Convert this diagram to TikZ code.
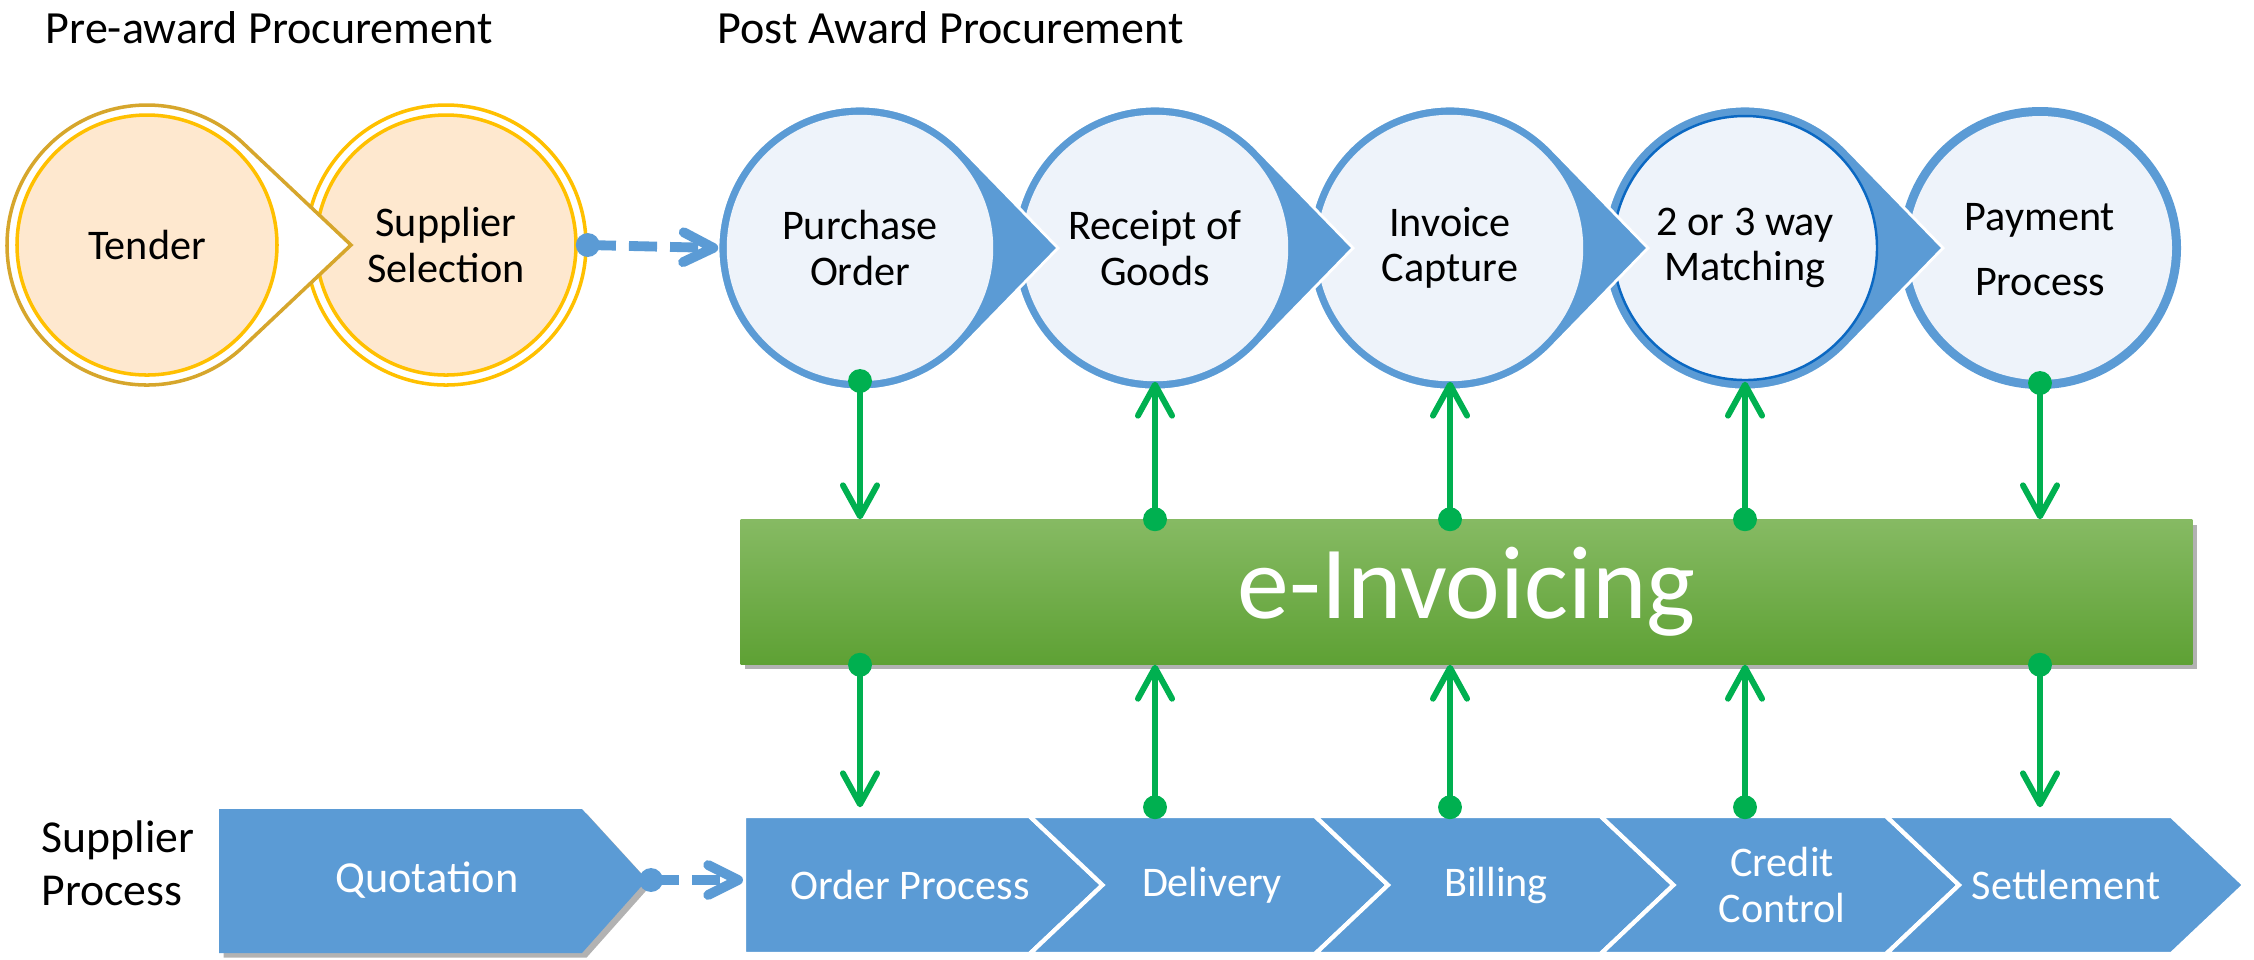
\documentclass[tikz,border=0pt]{standalone}
\usepackage{fontspec}
\setmainfont{Carlito}
\usetikzlibrary{arrows.meta,shadows}

\definecolor{eiblue}{HTML}{5B9BD5}
\definecolor{eilight}{HTML}{EEF3FA}
\definecolor{eipeach}{HTML}{FEE8CF}
\definecolor{eigold}{HTML}{D6A62C}
\definecolor{eiyellow}{HTML}{FFC000}
\definecolor{eigreen}{HTML}{00B050}
\definecolor{eidark}{HTML}{0B68C2}
\definecolor{bartop}{HTML}{86BA63}
\definecolor{barbot}{HTML}{5EA134}

\begin{document}
\begin{tikzpicture}[x=0.01cm,y=-0.01cm,
    headtext/.style={anchor=base west,inner sep=0pt,font=\fontsize{13.1}{15.5}\selectfont},
    circtext/.style={circle,minimum size=2.82cm,inner sep=0pt,align=center,font=\fontsize{12}{13}\selectfont},
    chevtext/.style={minimum height=1.54cm,inner sep=0pt,align=center,text=white,font=\fontsize{12}{13}\selectfont},
    gdot/.style={circle,fill=eigreen,inner sep=0pt,minimum size=6.8pt},
    bdot/.style={circle,fill=eiblue,inner sep=0pt,minimum size=6.8pt},
    garrow/.style={draw=eigreen,line width=1.7pt,-{Straight Barb[length=8.8pt,width=9.7pt,round]}},
    barrow/.style={draw=eiblue,line width=2.8pt,dash pattern=on 8pt off 3.7pt,-{Straight Barb[length=8.5pt,width=8.5pt,round]}}]
\useasboundingbox (0,0) rectangle (2254,959);

\node[headtext] (pre) at (45,43) {Pre-award Procurement};
\node[headtext] (post) at (717,43) {Post Award Procurement};

% pre-award circles
\filldraw[fill=white,draw=eiyellow,line width=1pt] (446,245) circle[radius=140];
\filldraw[fill=eipeach,draw=eiyellow,line width=1pt] (446,245) circle[radius=130];
\filldraw[fill=white,draw=eigold,line width=1pt] (351,245) -- ([shift={(147,245)}]46:140)
    arc[start angle=46,end angle=314,radius=140] -- cycle;
\filldraw[fill=eipeach,draw=eiyellow,line width=1pt] (147,245) circle[radius=130];

\node[circtext] (tn) at (147,245) {Tender};
\node[circtext] (sel) at (446,245) {Supplier\\Selection};

% post award circles, right to left
\fill[eiblue] (2040,248) circle[radius=141];
\fill[eilight] (2040,248) circle[radius=132];
\foreach \x/\ln in {1745/eidark,1450/eilight,1155/eilight,860/eilight} {
    \filldraw[fill=eiblue,draw=white,line width=0.8pt] (\x+198,248) -- ([shift={(\x,248)}]45:142)
        arc[start angle=45,end angle=315,radius=142] -- cycle;
    \filldraw[fill=eilight,draw=\ln,line width=0.7pt] (\x,248) circle[radius=132];
}

\node[circtext] (po) at (860,248) {Purchase\\Order};
\node[circtext] (rg) at (1155,248) {Receipt of\\Goods};
\node[circtext] (ic) at (1450,248) {Invoice\\Capture};
\node[circtext] (wm) at (1745,248) {2 or 3 way\\Matching};
\node[circtext] (pp) at (2040,250) {Payment\\[5.5pt]Process};

\draw[barrow] (sel.east) node[bdot]{} -- (po.west);

% e-invoicing bar
\node[minimum width=14.51cm,minimum height=1.44cm,inner sep=0pt,top color=bartop,bottom color=barbot,
    drop shadow={shadow xshift=1.3pt,shadow yshift=-1.3pt,opacity=0.3,fill=black},
    text=white,font=\fontsize{29.5}{30}\selectfont] (inv) at (1466.5,592) {e-Invoicing};

% supplier side
\node[anchor=west,align=left,inner sep=0pt,font=\fontsize{13}{15}\selectfont] (supl) at (41,863) {Supplier\\Process};

\fill[eiblue,drop shadow={shadow xshift=1.3pt,shadow yshift=-1.3pt,opacity=0.3,fill=black}]
    (219,809) -- (582,809) -- (647,880) -- (582,953) -- (219,953) -- cycle;
\node[text=white,font=\fontsize{12.6}{13}\selectfont] (quo) at (427,880) {Quotation};

\foreach \i/\nt in {0/0,1/73,2/73,3/73,4/73} {
    \filldraw[fill=eiblue,draw=white,line width=1.2pt] (744+285.5*\i,816) -- (1029.5+285.5*\i,816)
        -- (1102.5+285.5*\i,885) -- (1029.5+285.5*\i,954) -- (744+285.5*\i,954)
        -- (744+285.5*\i+\nt,885) -- cycle;
}

\node[chevtext] (op) at (910,885) {Order Process};
\node[chevtext] (dl) at (1212,885) {Delivery};
\node[chevtext] (bl) at (1496,885) {Billing};
\node[chevtext] (cc) at (1782,885) {Credit\\Control};
\node[chevtext] (st) at (2066,885) {Settlement};

\coordinate (quotip) at (651,880);
\coordinate (opin) at (743,880);
\draw[barrow] (quotip) node[bdot]{} -- (opin);

% green links
\foreach \c/\b in {po/op,pp/st} {
    \draw[garrow] ([yshift=2.5pt]\c.south) node[gdot]{} -- (\c |- inv.north);
    \draw[garrow] (\c |- inv.south) node[gdot]{} -- (\c |- \b.north);
}
\foreach \c/\b in {rg/dl,ic/bl,wm/cc} {
    \draw[garrow] (\c |- inv.north) node[gdot]{} -- ([yshift=2.3pt]\c.south);
    \draw[garrow] (\c |- \b.north) node[gdot]{} -- (\c |- inv.south);
}

\end{tikzpicture}
\end{document}
